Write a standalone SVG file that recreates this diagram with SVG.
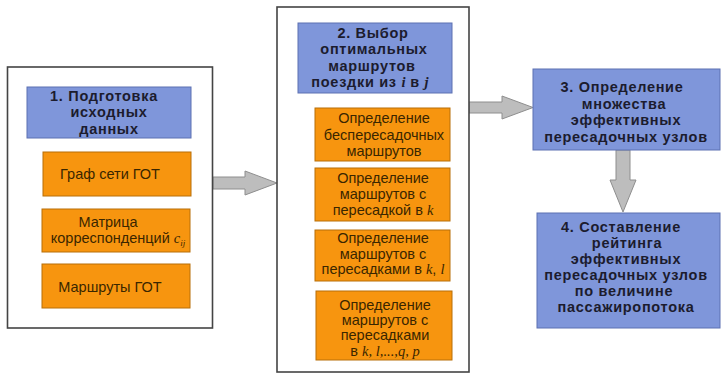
<svg xmlns="http://www.w3.org/2000/svg" width="722" height="375" viewBox="0 0 722 375">
<style>
.frame{fill:#fff;stroke:#444;stroke-width:1.6}
.blue{fill:#7f96da;stroke:#5c70b2;stroke-width:1}
.orange{fill:#f7950f;stroke:#b86f08;stroke-width:1}
.arrow{fill:#bdbdbd;stroke:#8e8e8e;stroke-width:1}
.tree{fill:none;stroke:#555;stroke-width:1}
.h{font-family:"Liberation Sans",Arial,sans-serif;font-weight:bold;font-size:14.5px;letter-spacing:0.7px;fill:#1c1c2e;text-anchor:middle}
.t{font-family:"Liberation Sans",Arial,sans-serif;font-size:14.5px;fill:#3a2600;text-anchor:middle}
.m{font-family:"Liberation Serif","Times New Roman",serif;font-style:italic;letter-spacing:0}
</style>
<rect width="722" height="375" fill="#fff"/>
<g id="connectors">
<path class="tree" d="M27,138 V290 M27,172 H43 M27,228 H42 M27,290 H42"/>
<path class="tree" d="M298,93 V313 M298,135 H315 M298,193 H315 M298,255 H315 M298,313 H316"/>
<polygon class="arrow" points="213,177 245,177 245,171 277,183 245,195 245,189 213,189"/>
<polygon class="arrow" points="469,102 502,102 502,96 533,107.5 502,119 502,113 469,113"/>
<polygon class="arrow" points="616,150 630,150 630,180 636,180 623,212 610,180 616,180"/>
</g>
<g id="box1">
<rect class="frame" x="7.5" y="67" width="205" height="261" stroke-width="2"/>
</g>
<g id="header1">
<rect class="blue" x="27" y="87" width="164" height="51"/>
<text class="h"><tspan x="104" y="100.5">1. Подготовка</tspan><tspan x="109" y="117">исходных</tspan><tspan x="109" y="133.5">данных</tspan></text>
</g>
<g id="graph">
<rect class="orange" x="43" y="152" width="148" height="44"/>
<text class="t" x="110" y="179">Граф сети ГОТ</text>
</g>
<g id="matrix">
<rect class="orange" x="42" y="209" width="148" height="43"/>
<text class="t"><tspan x="108" y="227">Матрица</tspan><tspan x="118" y="243">корреспонденций <tspan class="m">c</tspan><tspan class="m" font-size="9px" dy="3">ij</tspan></tspan></text>
</g>
<g id="routes">
<rect class="orange" x="42" y="264" width="148" height="44"/>
<text class="t" x="110" y="292">Маршруты ГОТ</text>
</g>
<g id="box2">
<rect class="frame" x="277" y="7" width="192" height="365"/>
</g>
<g id="header2">
<rect class="blue" x="298" y="23" width="154" height="70"/>
<text class="h"><tspan x="373" y="37.5">2. Выбор</tspan><tspan x="374" y="54">оптимальных</tspan><tspan x="372" y="70.5">маршрутов</tspan><tspan x="370" y="87">поездки из <tspan class="m">i</tspan> в <tspan class="m">j</tspan></tspan></text>
</g>
<g id="direct">
<rect class="orange" x="315" y="108" width="135" height="53"/>
<text class="t"><tspan x="384" y="123">Определение</tspan><tspan x="384" y="140">беспересадочных</tspan><tspan x="384" y="156">маршрутов</tspan></text>
</g>
<g id="transfer-k">
<rect class="orange" x="315" y="168" width="135" height="53"/>
<text class="t"><tspan x="383" y="183">Определение</tspan><tspan x="383" y="199">маршрутов с</tspan><tspan x="383" y="215">пересадкой в <tspan class="m">k</tspan></tspan></text>
</g>
<g id="transfer-kl">
<rect class="orange" x="315" y="230" width="135" height="51"/>
<text class="t"><tspan x="383" y="243">Определение</tspan><tspan x="383" y="259">маршрутов с</tspan><tspan x="383" y="274">пересадками в <tspan class="m">k</tspan>, <tspan class="m">l</tspan></tspan></text>
</g>
<g id="transfer-many">
<rect class="orange" x="316" y="291" width="136" height="69"/>
<text class="t"><tspan x="385" y="310">Определение</tspan><tspan x="385" y="325">маршрутов с</tspan><tspan x="385" y="340">пересадками</tspan><tspan x="385" y="356">в <tspan class="m">k, l,...,q, p</tspan></tspan></text>
</g>
<g id="node3">
<rect class="blue" x="533" y="69" width="187" height="81"/>
<text class="h"><tspan x="622" y="92">3. Определение</tspan><tspan x="624" y="108.5">множества</tspan><tspan x="626" y="125">эффективных</tspan><tspan x="626" y="141.5">пересадочных узлов</tspan></text>
</g>
<g id="node4">
<rect class="blue" x="537" y="213" width="183" height="115"/>
<text class="h"><tspan x="621" y="232">4. Составление</tspan><tspan x="627" y="248">рейтинга</tspan><tspan x="626" y="264">эффективных</tspan><tspan x="626" y="280">пересадочных узлов</tspan><tspan x="624" y="296">по величине</tspan><tspan x="626" y="312">пассажиропотока</tspan></text>
</g>
</svg>
